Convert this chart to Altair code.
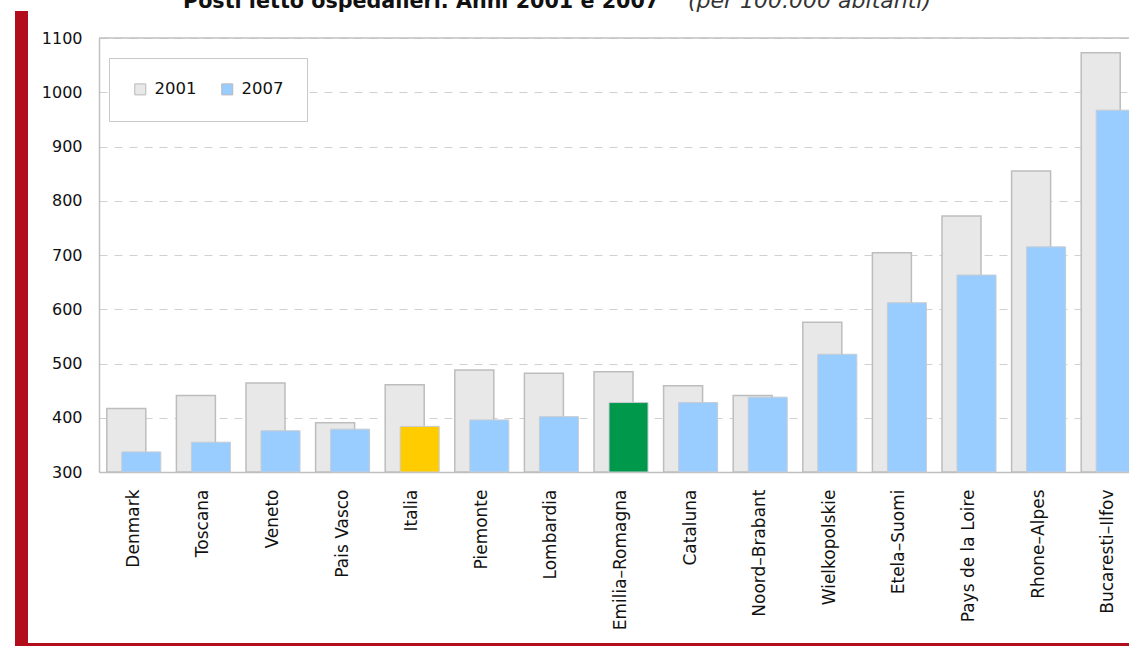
import altair as alt
import pandas as pd

countries = ["Denmark", "Toscana", "Veneto", "Pais Vasco", "Italia", "Piemonte",
             "Lombardia", "Emilia–Romagna", "Cataluna", "Noord–Brabant",
             "Wielkopolskie", "Etela–Suomi", "Pays de la Loire", "Rhone–Alpes",
             "Bucaresti–Ilfov"]
v2001 = [417, 441, 464, 391, 461, 488, 482, 485, 459, 441, 576, 704, 772, 855, 1073]
v2007 = [337, 355, 376, 379, 384, 396, 402, 428, 428, 438, 517, 612, 663, 715, 967]
key2007 = ["2007", "2007", "2007", "2007", "Italia", "2007", "2007", "Emilia–Romagna",
           "2007", "2007", "2007", "2007", "2007", "2007", "2007"]
y_ticks = [300, 400, 500, 600, 700, 800, 900, 1000, 1100]
title_main = "Posti letto ospedalieri. Anni 2001 e 2007"
title_sub = "(per 100.000 abitanti)"

df = pd.DataFrame({"country": countries, "v2001": v2001, "v2007": v2007,
                   "k2001": ["2001"] * len(countries), "k2007": key2007})

FONT = "DejaVu Sans"
color_scale = alt.Scale(domain=["2001", "2007", "Italia", "Emilia–Romagna"],
                        range=["#e8e8e8", "#99ccff", "#ffcc00", "#00994c"])
legend = alt.Legend(title=None, orient="none", legendX=10, legendY=20,
                    direction="horizontal", values=["2001", "2007"],
                    symbolType="square", symbolSize=121,
                    symbolStrokeColor="#b8b8b8", symbolStrokeWidth=1,
                    labelFontSize=16.5, labelFont=FONT, labelColor="#111111",
                    strokeColor="#c8c8c8", fillColor="white", padding=23,
                    columnPadding=22, labelOffset=6)

x_enc = alt.X("country:N", sort=countries,
              scale=alt.Scale(paddingInner=0, paddingOuter=0, rangeMax=1044),
              axis=alt.Axis(title=None, labelAngle=-90, ticks=False, labelPadding=17,
                            labelFontSize=17, labelFont=FONT, labelColor="#111111",
                            domainColor="#c0c0c0", domainWidth=1.5, grid=False))
y_scale = alt.Scale(domain=[300, 1100], zero=False, nice=False)
y_axis = alt.Axis(title=None, values=y_ticks, format="d", grid=True, gridDash=[8, 7],
                  gridColor="#d0d0d0", ticks=False, labelPadding=17,
                  labelFontSize=16, labelFont=FONT, labelColor="#111111",
                  domainColor="#c0c0c0", domainWidth=1.5)

base = alt.Chart(df)
bars01 = base.mark_bar(width=39, xOffset=-7.5, stroke="#bdbdbd", strokeWidth=1.5).encode(
    x=x_enc,
    y=alt.Y("v2001:Q", scale=y_scale, axis=y_axis),
    y2=alt.datum(300),
    color=alt.Color("k2001:N", scale=color_scale, legend=legend),
)
bars07 = base.mark_bar(width=39, xOffset=7.5, stroke="#c6ccd2", strokeWidth=1).encode(
    x=x_enc,
    y=alt.Y("v2007:Q", scale=y_scale),
    y2=alt.datum(300),
    color=alt.Color("k2007:N", scale=color_scale, legend=legend),
)
top_rule = alt.Chart(pd.DataFrame({"v": [1100]})).mark_rule(
    color="#c0c0c0", strokeWidth=1.5).encode(y=alt.Y("v:Q", scale=y_scale))

frame_df = pd.DataFrame({"a": [1]})
red_left = alt.Chart(frame_df).mark_rect(color="#b10d1c").encode(
    x=alt.value(-84), x2=alt.value(-71), y=alt.value(-27), y2=alt.value(612))
red_bottom = alt.Chart(frame_df).mark_rect(color="#b10d1c").encode(
    x=alt.value(-84), x2=alt.value(1045), y=alt.value(605), y2=alt.value(612))

t1 = alt.Chart(pd.DataFrame({"t": [title_main]})).mark_text(
    font=FONT, fontSize=20.7, fontWeight="bold", align="left", baseline="alphabetic",
    color="#111111").encode(x=alt.value(84), y=alt.value(-30), text="t:N")
t2 = alt.Chart(pd.DataFrame({"t": [title_sub]})).mark_text(
    font=FONT, fontSize=22, fontStyle="italic", align="left", baseline="alphabetic",
    color="#333333").encode(x=alt.value(589), y=alt.value(-30), text="t:N")

chart = alt.layer(bars01, bars07, top_rule, red_left, red_bottom, t1, t2).properties(
    width=1030, height=434,
    padding={"left": 99, "top": 38, "right": 0, "bottom": 174},
    autosize=alt.AutoSizeParams(type="none"),
).configure_view(stroke=None)

chart.save("out.html", embed_options={"renderer": "svg", "actions": False})
